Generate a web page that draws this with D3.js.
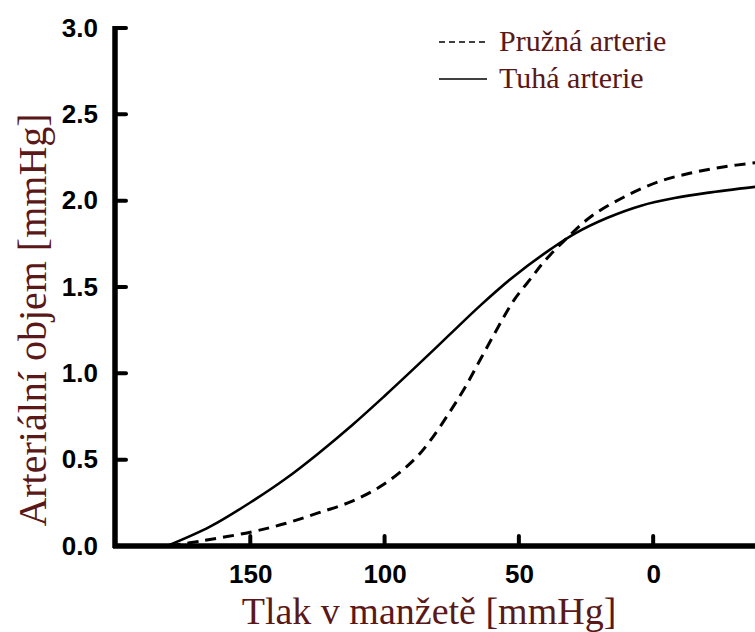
<!DOCTYPE html>
<html>
<head>
<meta charset="utf-8">
<script src="https://cdn.jsdelivr.net/npm/d3@7"></script>
<style>
  body { margin: 0; background: #fff; }
  svg { display: block; }
</style>
</head>
<body>
<div id="chart"></div>
<script>
// data: cuff pressure [mmHg] vs arterial volume
const tlakPruzna = [180, 168, 150, 137, 125, 112, 100, 89, 83, 76, 70, 64, 58, 52, 45, 41, 33, 23, 11, -2, -14, -26, -38];
const objemPruzna = [0, 0.03, 0.08, 0.13, 0.19, 0.26, 0.36, 0.50, 0.61, 0.77, 0.92, 1.09, 1.26, 1.42, 1.56, 1.64, 1.77, 1.91, 2.02, 2.11, 2.16, 2.195, 2.22];
const tlakTuha = [181, 165, 150, 137, 125, 112, 100, 88, 76, 64, 52, 38, 29, 17, 4.5, -8, -20, -38];
const objemTuha = [0, 0.112, 0.252, 0.388, 0.532, 0.701, 0.869, 1.043, 1.221, 1.398, 1.56, 1.721, 1.811, 1.901, 1.971, 2.015, 2.045, 2.08];
const xTicks = [150, 100, 50, 0];
const yTicks = [0, 0.5, 1.0, 1.5, 2.0, 2.5, 3.0];
const legendLabels = ["Pružná arterie", "Tuhá arterie"];

const W = 755, H = 632;
const titleColor = "#5a1818";
const serif = "Liberation Serif, Times New Roman, serif";
const sans = "Liberation Sans, Arial, sans-serif";

const svg = d3.select("#chart").append("svg")
  .attr("width", W).attr("height", H);

const x = d3.scaleLinear().domain([200, -40]).range([116, 760.6]);
const y = d3.scaleLinear().domain([0, 3]).range([546, 28]);

// axes: labels from d3 axis, stubs drawn inward
const yAxis = svg.append("g")
  .attr("transform", "translate(116,0)")
  .call(d3.axisLeft(y).tickValues(yTicks).tickFormat(d3.format(".1f")).tickSize(0).tickPadding(18));
yAxis.select(".domain").remove();
yAxis.selectAll(".tick text")
  .attr("fill", "#000")
  .style("font-family", sans)
  .style("font-weight", "bold").style("font-size", "26px");

const xAxis = svg.append("g")
  .attr("transform", "translate(0,546)")
  .call(d3.axisBottom(x).tickValues(xTicks).tickSize(0).tickPadding(19));
xAxis.select(".domain").remove();
xAxis.selectAll(".tick text")
  .attr("fill", "#000")
  .style("font-family", sans)
  .style("font-weight", "bold").style("font-size", "26px");

const stubs = svg.append("g").attr("stroke", "#000").attr("stroke-width", 4).attr("stroke-linecap", "round");
stubs.selectAll(".ys").data(yTicks).join("line")
  .attr("class", "ys")
  .attr("x1", 116).attr("x2", 126)
  .attr("y1", d => y(d)).attr("y2", d => y(d));
stubs.selectAll(".xs").data(xTicks).join("line")
  .attr("class", "xs")
  .attr("x1", d => x(d)).attr("x2", d => x(d))
  .attr("y1", 546).attr("y2", 536);

svg.append("line").attr("x1", 115).attr("x2", 115).attr("y1", 26).attr("y2", 548)
  .attr("stroke", "#000").attr("stroke-width", 5.5);
svg.append("line").attr("x1", 113).attr("x2", W).attr("y1", 546).attr("y2", 546)
  .attr("stroke", "#000").attr("stroke-width", 5.5);

// curves
const line = d3.line()
  .x(d => x(d[0]))
  .y(d => y(d[1]))
  .curve(d3.curveCatmullRom.alpha(0.5));

svg.append("path")
  .datum(d3.zip(tlakTuha, objemTuha))
  .attr("d", line)
  .attr("fill", "none").attr("stroke", "#000").attr("stroke-width", 2.6);

svg.append("path")
  .datum(d3.zip(tlakPruzna, objemPruzna))
  .attr("d", line)
  .attr("fill", "none").attr("stroke", "#000").attr("stroke-width", 3)
  .attr("stroke-dasharray", "11,7");

// titles
svg.append("text")
  .attr("x", 429).attr("y", 624)
  .attr("text-anchor", "middle")
  .attr("fill", titleColor)
  .style("font-family", serif)
  .style("font-size", "38px")
  .text("Tlak v manžetě [mmHg]");

svg.append("text")
  .attr("transform", "translate(46,320) rotate(-90)")
  .attr("text-anchor", "middle")
  .attr("fill", titleColor)
  .style("font-family", serif)
  .style("font-size", "40px")
  .text("Arteriální objem [mmHg]");

// legend
const leg = svg.append("g");
legendLabels.forEach((lab, i) => {
  const ly = 42 + i * 37;
  leg.append("line")
    .attr("x1", 439).attr("x2", 487).attr("y1", ly).attr("y2", ly)
    .attr("stroke", "#000").attr("stroke-width", 1.5)
    .attr("stroke-dasharray", i === 0 ? "6,4" : null);
  leg.append("text")
    .attr("x", 499).attr("y", ly + 9)
    .attr("fill", titleColor)
    .style("font-family", serif)
    .style("font-size", "30px")
    .text(lab);
});
</script>
</body>
</html>
